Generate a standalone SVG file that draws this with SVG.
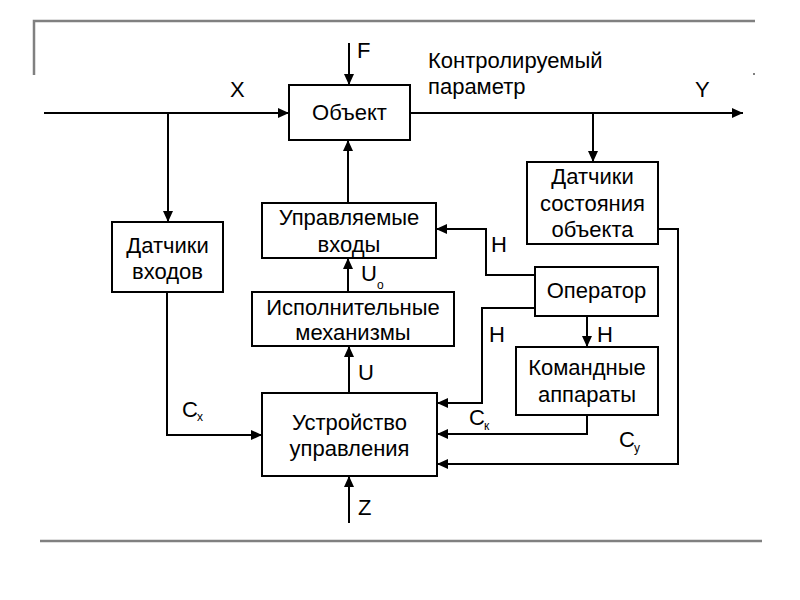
<svg xmlns="http://www.w3.org/2000/svg" width="800" height="600" viewBox="0 0 800 600">
<style>
.box{fill:#fff;stroke:#000;stroke-width:2}
.t{font-family:"Liberation Sans",Arial,sans-serif;font-size:22px;fill:#000;text-anchor:middle}
.l{font-family:"Liberation Sans",Arial,sans-serif;font-size:22px;fill:#000}
.s{font-family:"Liberation Sans",Arial,sans-serif;font-size:12px;fill:#000}
.c{fill:none;stroke:#000;stroke-width:2;marker-end:url(#ah)}
.fr{fill:none;stroke:#808080;stroke-width:2.5}
</style>
<defs>
<marker id="ah" markerUnits="userSpaceOnUse" markerWidth="12" markerHeight="10" refX="11" refY="5" orient="auto">
<path d="M0,0 L11,5 L0,10 z" fill="#000"/>
</marker>
</defs>
<rect width="800" height="600" fill="#fff"/>
<g id="frame">
<polyline class="fr" points="34,75 34,21 755,21"/>
<line class="fr" x1="40" y1="541" x2="762" y2="541"/>
<rect x="753" y="73" width="2" height="2" fill="#808080"/>
</g>
<g id="connectors">
<polyline class="c" points="44,113 289,113"/>
<polyline class="c" points="168,113 168,222"/>
<polyline class="c" points="349,43 349,85"/>
<polyline class="c" points="410,113 743,113"/>
<polyline class="c" points="593,113 593,162"/>
<polyline class="c" points="348,203 348,140"/>
<polyline class="c" points="348,292 348,258"/>
<polyline class="c" points="349,393 349,346"/>
<polyline class="c" points="349,523 349,476"/>
<polyline class="c" points="535,275 486,275 486,229 436,229"/>
<polyline class="c" points="535,308 482,308 482,403 437,403"/>
<polyline class="c" points="587,316 587,347"/>
<polyline class="c" points="587,415 587,434 437,434"/>
<polyline class="c" points="658,229 678,229 678,464 437,464"/>
<polyline class="c" points="167,292 167,435 262,435"/>
</g>
<g id="obj">
<rect class="box" x="289" y="85" width="121" height="55"/>
<text class="t" x="349.5" y="120">Объект</text>
</g>
<g id="din">
<rect class="box" x="112" y="222" width="111" height="70"/>
<text class="t" x="167.5" y="253">Датчики</text>
<text class="t" x="167.5" y="279">входов</text>
</g>
<g id="uv">
<rect class="box" x="262" y="203" width="174" height="55"/>
<text class="t" x="349" y="225">Управляемые</text>
<text class="t" x="349" y="252">входы</text>
</g>
<g id="im">
<rect class="box" x="252" y="292" width="202" height="54"/>
<text class="t" x="353" y="315">Исполнительные</text>
<text class="t" x="353" y="340">механизмы</text>
</g>
<g id="dso">
<rect class="box" x="527" y="162" width="131" height="82"/>
<text class="t" x="592.5" y="184">Датчики</text>
<text class="t" x="592.5" y="211">состояния</text>
<text class="t" x="592.5" y="237">объекта</text>
</g>
<g id="op">
<rect class="box" x="535" y="267" width="123" height="49"/>
<text class="t" x="596.5" y="298">Оператор</text>
</g>
<g id="ka">
<rect class="box" x="516" y="347" width="142" height="68"/>
<text class="t" x="587" y="375">Командные</text>
<text class="t" x="587" y="402">аппараты</text>
</g>
<g id="uu">
<rect class="box" x="262" y="393" width="175" height="83"/>
<text class="t" x="349.5" y="430">Устройство</text>
<text class="t" x="349.5" y="456">управления</text>
</g>
<g id="labels">
<text class="l" x="357" y="58">F</text>
<text class="l" x="230" y="97">X</text>
<text class="l" x="695" y="97">Y</text>
<text class="l" x="428" y="68">Контролируемый</text>
<text class="l" x="428" y="94">параметр</text>
<text class="l" x="491" y="252">Н</text>
<text class="l" x="361" y="281">U</text><text class="s" x="377" y="289">o</text>
<text class="l" x="489" y="342">Н</text>
<text class="l" x="597" y="342">Н</text>
<text class="l" x="358" y="380">U</text>
<text class="l" x="182" y="417">C</text><text class="s" x="197" y="421">x</text>
<text class="l" x="469" y="425">C</text><text class="s" x="484" y="430">к</text>
<text class="l" x="619" y="447">C</text><text class="s" x="634" y="452">у</text>
<text class="l" x="358" y="515">Z</text>
</g>
</svg>
